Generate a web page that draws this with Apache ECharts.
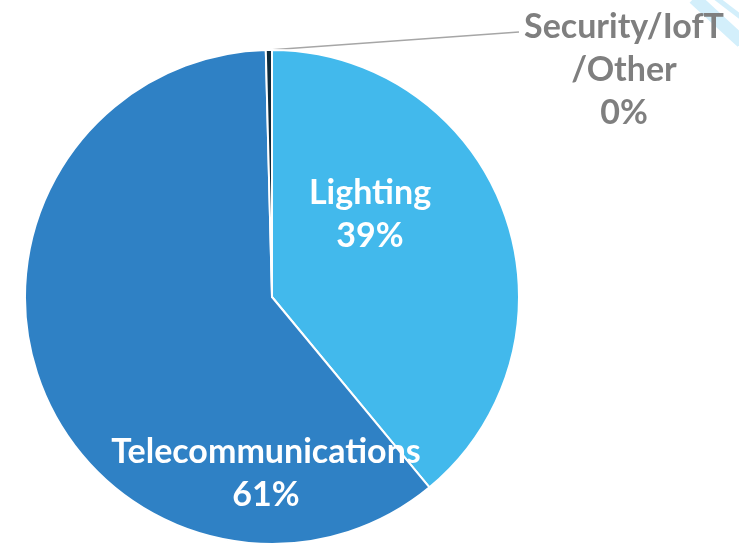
<!DOCTYPE html>
<html><head><meta charset="utf-8">
<script src="https://cdn.jsdelivr.net/npm/echarts@6/dist/echarts.min.js"></script>
<style>html,body{margin:0;padding:0;background:#fff}#c{width:739px;height:544px}</style>
</head><body><div id="c"></div>
<script>
const categories = ['Lighting', 'Telecommunications', 'Security/IofT\n/Other'];
const values = [39.0, 60.6, 0.4];
const colors = ['#42B9EC', '#2F81C5', '#0E2A3B'];
const labelCenters = [[370, 215], [266, 474], [624, 70]];
const labelColors = ['#ffffff', '#ffffff', '#7F7F7F'];
const leaderEnd = [519, 32];

const chart = echarts.init(document.getElementById('c'), null, {renderer: 'canvas'});
chart.setOption({
  animation: false,
  backgroundColor: '#ffffff',
  graphic: [
    {type: 'line', z: -10, silent: true, shape: {x1: 694, y1: -2, x2: 742, y2: 42}, style: {stroke: '#D3EFFB', lineWidth: 13}},
    {type: 'line', z: -10, silent: true, shape: {x1: 716, y1: -2, x2: 742, y2: 18}, style: {stroke: '#D3EFFB', lineWidth: 5}}
  ],
  series: [{
    type: 'pie',
    center: [272, 297],
    radius: 247,
    startAngle: 90,
    clockwise: true,
    percentPrecision: 0,
    avoidLabelOverlap: false,
    itemStyle: {borderColor: '#ffffff', borderWidth: 2},
    label: {
      show: true,
      position: 'outside',
      formatter: '{b}\n{d}%',
      fontFamily: 'Lato',
      fontWeight: 'bold',
      fontSize: 34,
      lineHeight: 43,
      align: 'center'
    },
    labelLine: {show: false, length: 10, length2: 10, lineStyle: {color: '#A6A6A6', width: 1.5}},
    labelLayout: function (p) {
      const c = labelCenters[p.dataIndex];
      const o = {x: c[0], y: c[1], align: 'center', verticalAlign: 'middle'};
      if (p.dataIndex === 2 && p.labelLinePoints) {
        o.labelLinePoints = [p.labelLinePoints[0], leaderEnd];
      }
      return o;
    },
    data: categories.map((n, i) => ({
      name: n, value: values[i],
      itemStyle: {color: colors[i]},
      label: {color: labelColors[i]},
      labelLine: {show: i === 2}
    }))
  }]
});
</script></body></html>
